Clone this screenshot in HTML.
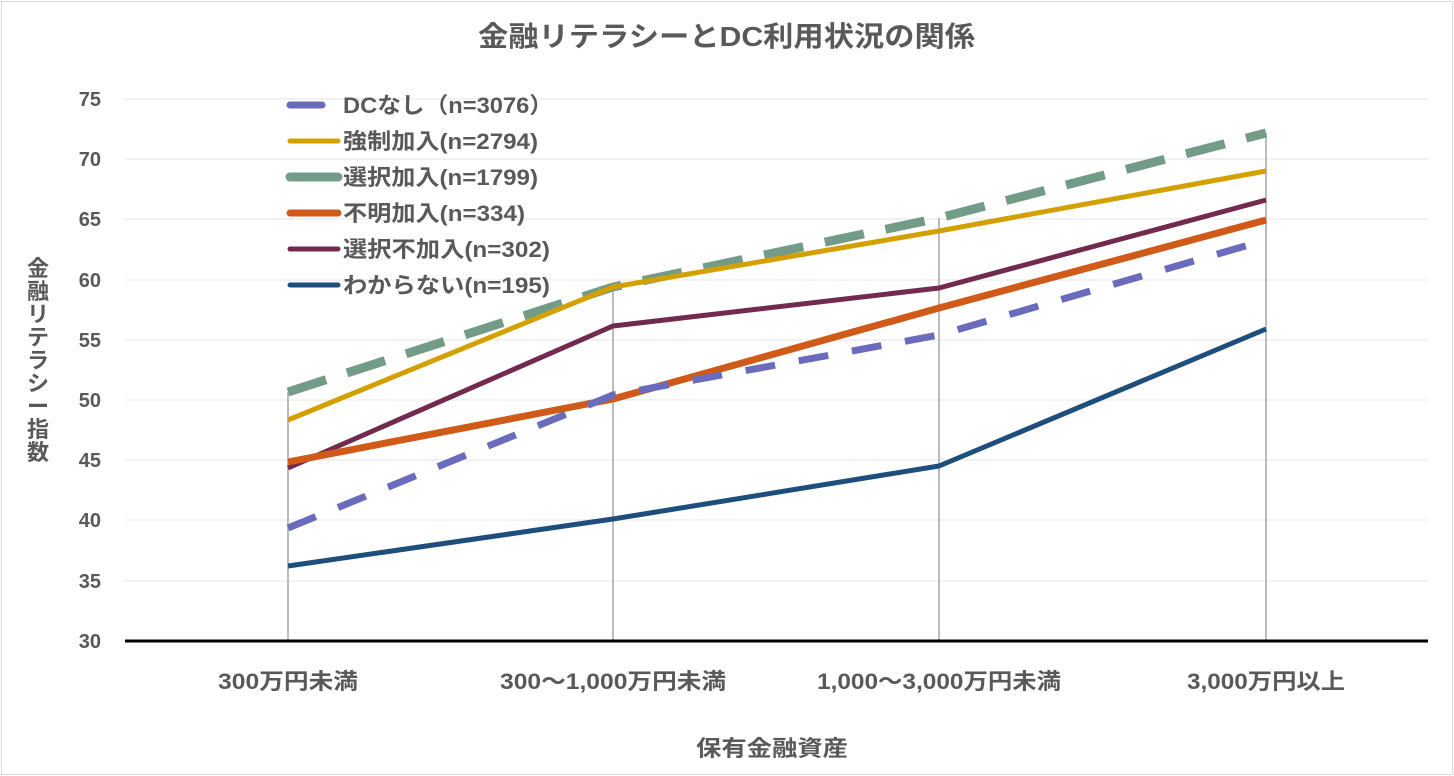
<!DOCTYPE html>
<html><head><meta charset="utf-8"><style>
html,body{margin:0;padding:0;background:#fff}
svg{display:block;font-family:"Liberation Sans","Noto Sans CJK JP",sans-serif}
</style></head><body>
<svg width="1454" height="776" viewBox="0 0 1454 776">
<rect x="1.5" y="1.5" width="1451" height="773" fill="#fff" stroke="#d9d9d9"/>
<text x="478" y="46" textLength="497" lengthAdjust="spacingAndGlyphs" font-size="28" font-weight="bold" fill="#595959">金融リテラシーとDC利用状況の関係</text>
<g stroke="#eeeeee" stroke-width="1.5">
<line x1="125" x2="1428" y1="99" y2="99"/><line x1="125" x2="1428" y1="159" y2="159"/>
<line x1="125" x2="1428" y1="219" y2="219"/><line x1="125" x2="1428" y1="280" y2="280"/>
<line x1="125" x2="1428" y1="340" y2="340"/><line x1="125" x2="1428" y1="400" y2="400"/>
<line x1="125" x2="1428" y1="460" y2="460"/><line x1="125" x2="1428" y1="520" y2="520"/>
<line x1="125" x2="1428" y1="581" y2="581"/>
</g>
<g font-size="20" font-weight="bold" fill="#595959" text-anchor="end">
<text x="101" y="106">75</text><text x="101" y="166">70</text><text x="101" y="226">65</text>
<text x="101" y="287">60</text><text x="101" y="347">55</text><text x="101" y="407">50</text>
<text x="101" y="467">45</text><text x="101" y="527">40</text><text x="101" y="588">35</text>
<text x="101" y="648">30</text>
</g>
<g stroke="#a6a6a6" stroke-width="1.5">
<line x1="288" x2="288" y1="392" y2="641"/><line x1="613" x2="613" y1="287" y2="641"/>
<line x1="939" x2="939" y1="218" y2="641"/><line x1="1266" x2="1266" y1="133" y2="641"/>
</g>
<line x1="125" x2="1428" y1="641" y2="641" stroke="#000" stroke-width="3"/>
<g font-size="22" font-weight="bold" fill="#595959" lengthAdjust="spacingAndGlyphs">
<text x="218" y="689" textLength="140" lengthAdjust="spacingAndGlyphs">300万円未満</text>
<text x="500" y="689" textLength="226" lengthAdjust="spacingAndGlyphs">300～1,000万円未満</text>
<text x="817" y="689" textLength="244" lengthAdjust="spacingAndGlyphs">1,000～3,000万円未満</text>
<text x="1187" y="689" textLength="158" lengthAdjust="spacingAndGlyphs">3,000万円以上</text>
<text x="696" y="756" textLength="152" lengthAdjust="spacingAndGlyphs">保有金融資産</text>
</g>
<text font-size="22" font-weight="bold" fill="#595959" text-anchor="middle"><tspan x="38" y="276">金</tspan><tspan x="38" dy="23">融</tspan><tspan x="38" dy="23">リ</tspan><tspan x="38" dy="23">テ</tspan><tspan x="38" dy="23">ラ</tspan><tspan x="38" dy="23">シ</tspan><tspan x="38" dy="23">ー</tspan><tspan x="38" dy="23">指</tspan><tspan x="38" dy="23">数</tspan></text>
<g fill="none" stroke-linejoin="round">
<polyline points="288,392 613,287 939,218 1266,133" stroke="#739c88" stroke-width="9" stroke-dasharray="40,22"/>
<polyline points="288,420 613,287 939,231 1266,171" stroke="#d4a000" stroke-width="5"/>
<polyline points="288,468 613,326 939,288 1266,200" stroke="#722a4f" stroke-width="5"/>
<polyline points="288,462 613,399 939,308 1266,220" stroke="#d05a18" stroke-width="7"/>
<polyline points="288,528 613,395 939,335 1266,240" stroke="#6b6bbd" stroke-width="7" stroke-dasharray="30,24"/>
<polyline points="288,566 613,519 939,466 1266,329" stroke="#1e4e7c" stroke-width="5"/>
</g>
<g stroke-linecap="round">
<line x1="290" x2="322" y1="105" y2="105" stroke="#6b6bbd" stroke-width="7"/>
<line x1="290" x2="338" y1="141" y2="141" stroke="#d4a000" stroke-width="5"/>
<line x1="290" x2="338" y1="177" y2="177" stroke="#739c88" stroke-width="9"/>
<line x1="290" x2="338" y1="213" y2="213" stroke="#d05a18" stroke-width="7"/>
<line x1="290" x2="338" y1="249" y2="249" stroke="#722a4f" stroke-width="5"/>
<line x1="290" x2="338" y1="285" y2="285" stroke="#1e4e7c" stroke-width="5"/>
</g>
<g font-size="22" font-weight="bold" fill="#595959">
<text x="343" y="113" textLength="210" lengthAdjust="spacingAndGlyphs">DCなし（n=3076）</text>
<text x="343" y="149" textLength="195" lengthAdjust="spacingAndGlyphs">強制加入(n=2794)</text>
<text x="343" y="185" textLength="195" lengthAdjust="spacingAndGlyphs">選択加入(n=1799)</text>
<text x="343" y="221" textLength="182" lengthAdjust="spacingAndGlyphs">不明加入(n=334)</text>
<text x="343" y="257" textLength="207" lengthAdjust="spacingAndGlyphs">選択不加入(n=302)</text>
<text x="343" y="293" textLength="207" lengthAdjust="spacingAndGlyphs">わからない(n=195)</text>
</g>
</svg>
</body></html>
